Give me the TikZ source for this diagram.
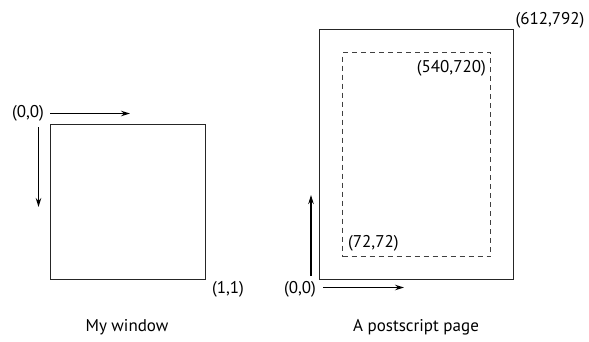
\documentclass[tikz,border=0pt]{standalone}
\usepackage{fontspec}
\setmainfont{PT Sans}
\usetikzlibrary{arrows.meta}
\begin{document}
\begin{tikzpicture}[x=1pt,y=-1pt,
  lbl/.style={inner sep=0pt,font=\fontsize{17}{20}\selectfont},
  box/.style={draw,line width=1.2pt,black!85},
  dbox/.style={draw,line width=1.2pt,dash pattern=on 5pt off 4pt,black!75},
  arr/.style={line width=1.2pt,-{Stealth[length=9pt,width=5.5pt]}}]
\useasboundingbox (0,0) rectangle (589,341);
% left
\node[box,minimum width=155pt,minimum height=155pt,inner sep=0pt,anchor=north west] (win) at (50,123.5) {};
\coordinate (h0) at (50,113.5);
\coordinate (h1) at (130,113.5);
\coordinate (v0) at (38.5,127);
\coordinate (v1) at (38.5,207);
\draw[arr] (h0) -- (h1);
\draw[arr] (v0) -- (v1);
\node[lbl] (o1) at (28,113) {(0,0)};
\node[lbl] (e1) at (228,289) {(1,1)};
\node[lbl] (t1) at (127,327) {My window};
% right
\node[box,minimum width=194pt,minimum height=250pt,inner sep=0pt,anchor=north west] (page) at (319,29) {};
\node[dbox,minimum width=148pt,minimum height=204pt,inner sep=0pt,anchor=north west] (marg) at (342,52) {};
\coordinate (u0) at (311,276);
\coordinate (u1) at (311,195);
\coordinate (r0) at (323,287.5);
\coordinate (r1) at (404,287.5);
\draw[arr] (u0) -- (u1);
\draw[arr] (r0) -- (r1);
\node[lbl] (o2) at (300,289) {(0,0)};
\node[lbl] (c1) at (550,20) {(612,792)};
\node[lbl,anchor=east] (c2) at (486,68) {(540,720)};
\node[lbl,anchor=west] (c3) at (348,243) {(72,72)};
\node[lbl] (t2) at (416,327) {A postscript page};
\end{tikzpicture}
\end{document}
